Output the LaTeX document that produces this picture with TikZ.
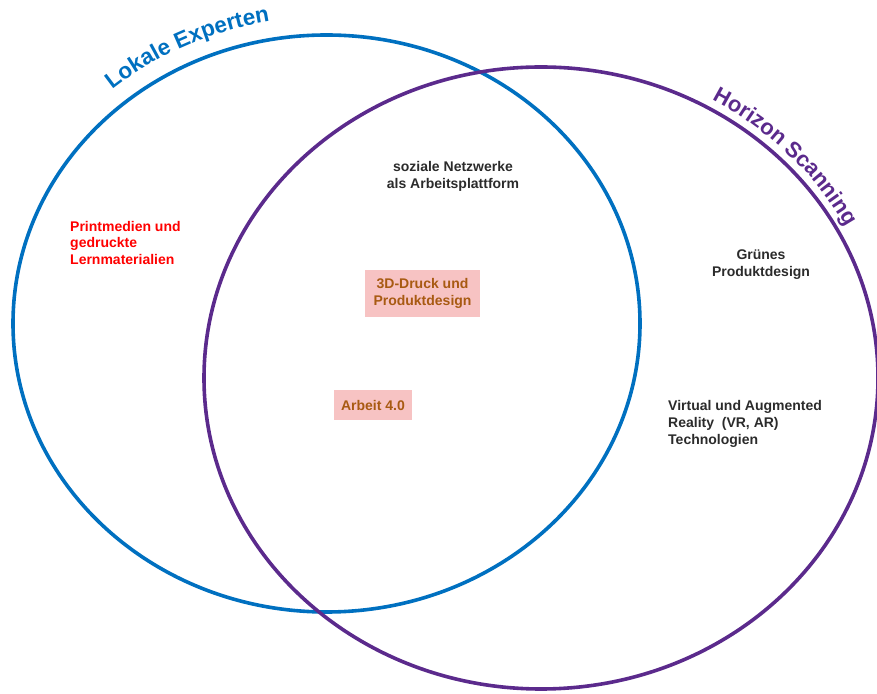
\documentclass[tikz,border=0pt]{standalone}
\usepackage{fontspec}
\setmainfont{Liberation Sans}
\usetikzlibrary{decorations.text}
\definecolor{expblue}{HTML}{0070C0}
\definecolor{hspurple}{HTML}{5B2A8C}
\definecolor{txtdark}{HTML}{2B2B2B}
\definecolor{txtbrown}{HTML}{A85A12}
\definecolor{boxpink}{HTML}{F7C3C3}
\definecolor{txtred}{HTML}{FF0000}
\tikzset{
  ring/.style={line width=3.6pt},
  label/.style={font=\fontsize{14}{16.8}\selectfont\bfseries, inner sep=0pt},
  topic/.style={label, text=txtdark},
  redtopic/.style={label, text=txtred, align=left},
  hotbox/.style={label, text=txtbrown, fill=boxpink, align=center},
}
\begin{document}
\begin{tikzpicture}[x=1pt,y=1pt]
\useasboundingbox (0,0) rectangle (877,693);
\coordinate (bc) at (326.5,369.5);
\coordinate (pc) at (541,315);
% the two sets
\draw[ring, expblue] (bc) ellipse [x radius=313.5, y radius=288.5];
\draw[ring, hspurple] (pc) ellipse [x radius=337, y radius=311];
% set titles along the outlines
\path[decorate, decoration={text along path,
    text={|\fontsize{22.5}{22.5}\selectfont\bfseries\color{expblue}|Lokale Experten}}]
  (bc) ++(130.3:331.5 and 306.5)
  arc[start angle=130.3, end angle=75, x radius=331.5, y radius=306.5];
\path[decorate, decoration={text along path,
    text={|\fontsize{22}{22}\selectfont\bfseries\color{hspurple}|Horizon Scanning}}]
  (pc) ++(60.4:346 and 320)
  arc[start angle=60.4, end angle=5, x radius=346, y radius=320];
% topics
\node[topic, align=center] (soz) at (453,517) {soziale Netzwerke\\als Arbeitsplattform};
\node[redtopic, anchor=west] (print) at (70,450) {Printmedien und\\gedruckte\\Lernmaterialien};
\node[hotbox, minimum width=115, minimum height=47] (druck) at (422.5,399.5) {3D-Druck und\\Produktdesign};
\node[hotbox, minimum width=78, minimum height=30] (arbeit) at (373,288) {Arbeit 4.0};
\node[topic, align=center] (gruen) at (761,428) {Grünes\\Produktdesign};
\node[topic, align=left, anchor=west] (vr) at (668,269) {Virtual und Augmented\\Reality\ \ (VR, AR)\\Technologien};
\end{tikzpicture}
\end{document}
